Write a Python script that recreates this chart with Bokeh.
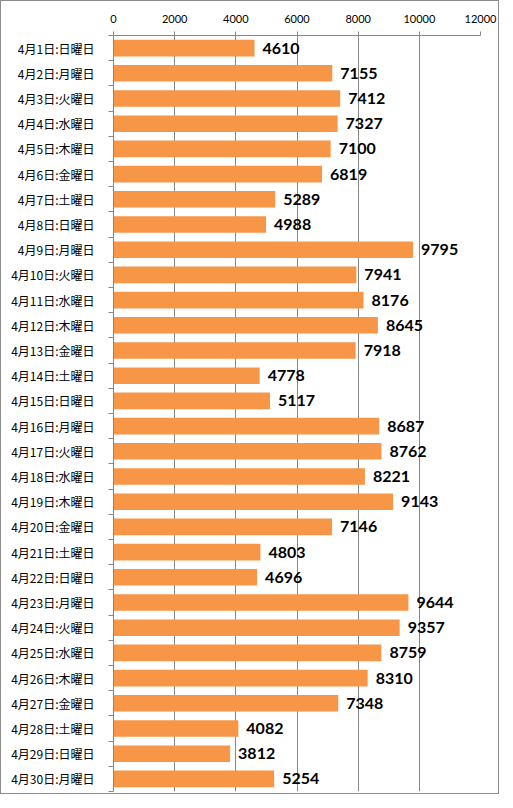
from bokeh.plotting import figure
from bokeh.models import ColumnDataSource, FixedTicker, Range1d
from bokeh.core.properties import value
from bokeh.embed import file_html
from bokeh.resources import INLINE

days = ["4月1日:日曜日", "4月2日:月曜日", "4月3日:火曜日", "4月4日:水曜日", "4月5日:木曜日",
        "4月6日:金曜日", "4月7日:土曜日", "4月8日:日曜日", "4月9日:月曜日", "4月10日:火曜日",
        "4月11日:水曜日", "4月12日:木曜日", "4月13日:金曜日", "4月14日:土曜日", "4月15日:日曜日",
        "4月16日:月曜日", "4月17日:火曜日", "4月18日:水曜日", "4月19日:木曜日", "4月20日:金曜日",
        "4月21日:土曜日", "4月22日:日曜日", "4月23日:月曜日", "4月24日:火曜日", "4月25日:水曜日",
        "4月26日:木曜日", "4月27日:金曜日", "4月28日:土曜日", "4月29日:日曜日", "4月30日:月曜日"]
counts = [4610, 7155, 7412, 7327, 7100, 6819, 5289, 4988, 9795, 7941,
          8176, 8645, 7918, 4778, 5117, 8687, 8762, 8221, 9143, 7146,
          4803, 4696, 9644, 9357, 8759, 8310, 7348, 4082, 3812, 5254]
x_ticks = [0, 2000, 4000, 6000, 8000, 10000, 12000]

n = len(days)
pos = [i + 0.5 for i in range(n)]
src = ColumnDataSource(dict(y=pos, v=counts, lab=[str(c) for c in counts]))

p = figure(width=497, height=792, output_backend="svg", toolbar_location=None,
           x_range=Range1d(0, 12000), y_range=Range1d(n, 0),
           x_axis_location="above")
p.frame_width = 367
p.frame_height = 756
p.min_border_left = 112
p.min_border_right = 18
p.min_border_top = 34
p.min_border_bottom = 2
p.outline_line_color = None
p.background_fill_color = "white"
p.border_fill_color = "white"
p.styles = {"border": "1px solid #8c8c8c"}

p.hbar(y="y", right="v", left=0, height=0.66, source=src,
       fill_color="#F79646", line_color=None)
p.text(x="v", y="y", text="lab", source=src, x_offset=8,
       text_align="left", text_baseline="middle",
       text_font=value("Lato"), text_font_style="bold",
       text_font_size="16px", text_color="black")

xa = p.xaxis[0]
xa.ticker = FixedTicker(ticks=x_ticks)
xa.major_label_text_font = "Lato"
xa.major_label_text_font_size = "11px"
xa.major_label_text_color = "black"
xa.axis_line_color = "#868686"
xa.major_tick_line_color = "#868686"
xa.major_tick_out = 4
xa.major_tick_in = 0
xa.minor_tick_line_color = None
xa.major_label_standoff = 9

ya = p.yaxis[0]
ya.ticker = FixedTicker(ticks=pos, minor_ticks=list(range(n + 1)))
ya.major_label_overrides = {pos[i]: days[i] for i in range(n)}
ya.major_label_text_font = "Noto Sans CJK JP"
ya.major_label_text_font_size = "12px"
ya.major_label_text_color = "black"
ya.major_tick_out = 0
ya.major_tick_in = 0
ya.minor_tick_out = 5
ya.minor_tick_in = 0
ya.minor_tick_line_color = "#868686"
ya.axis_line_color = "#868686"
ya.major_label_standoff = 14

p.xgrid.ticker = FixedTicker(ticks=x_ticks)
p.xgrid.grid_line_color = "#868686"
p.ygrid.grid_line_color = None

open("out.html", "w").write(file_html(p, INLINE))
